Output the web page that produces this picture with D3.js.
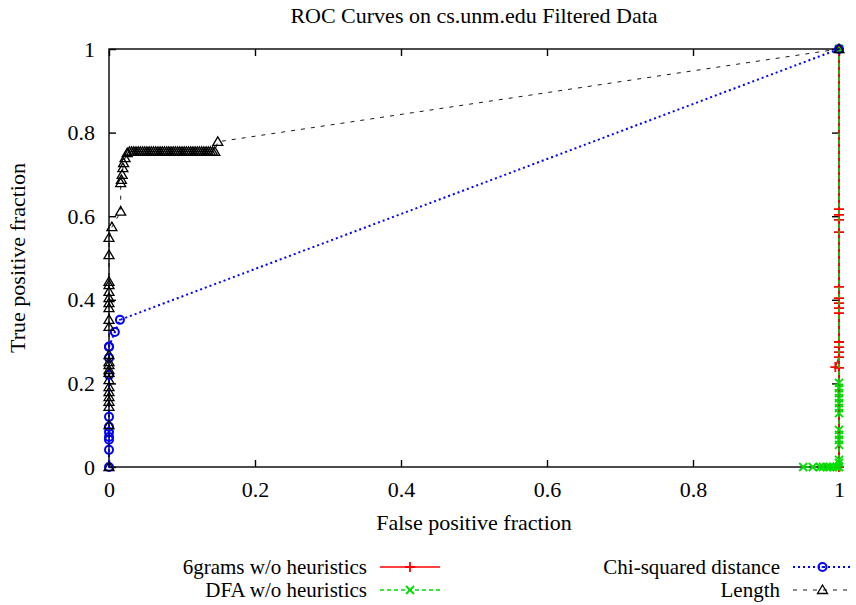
<!DOCTYPE html>
<html><head><meta charset="utf-8">
<script src="https://cdn.jsdelivr.net/npm/d3@7"></script>
<style>body{margin:0;background:#fff}</style>
</head><body>
<svg id="c" width="856" height="605"></svg>
<script>
const title = "ROC Curves on cs.unm.edu Filtered Data";
const xLabel = "False positive fraction";
const yLabel = "True positive fraction";
const xTicks = [0, 0.2, 0.4, 0.6, 0.8, 1];
const yTicks = [0, 0.2, 0.4, 0.6, 0.8, 1];

// 6grams w/o heuristics (red +, solid)
const grams6X = [1, 1, 1, 1, 1, 1, 1, 1, 1, 1, 1, 1, 1, 1, 0.995, 1, 1];
const grams6Y = [1, 0.617, 0.603, 0.591, 0.562, 0.431, 0.404, 0.392, 0.380, 0.368, 0.299, 0.287, 0.275, 0.263, 0.239, 0.237, 0];
// DFA w/o heuristics (green x, dashed)
const dfaX = [1, 1, 1, 1, 1, 1, 1, 1, 1, 1, 1, 1, 1, 1, 1, 0.997, 0.992, 0.988, 0.984, 0.978, 0.974, 0.964, 0.951];
const dfaY = [1, 0.201, 0.189, 0.177, 0.165, 0.153, 0.141, 0.129, 0.089, 0.077, 0.065, 0.053, 0.017, 0.010, 0, 0, 0, 0, 0, 0, 0, 0, 0];
// Chi-squared distance (blue circles, dotted)
const chiX = [0, 0, 0, 0, 0, 0, 0, 0, 0, 0, 0, 0.008, 0.015, 1];
const chiY = [0, 0.041, 0.065, 0.072, 0.084, 0.096, 0.120, 0.220, 0.261, 0.287, 0.288, 0.323, 0.352, 1];
// Length (black triangles, dashed)
const lenX = [0, 0, 0, 0, 0, 0, 0, 0, 0, 0, 0, 0, 0, 0, 0, 0, 0, 0, 0, 0, 0, 0, 0, 0.004, 0.016,
  0.016, 0.017, 0.018, 0.019, 0.020, 0.022, 0.025, 0.028, 0.031, 0.034, 0.037, 0.040, 0.043, 0.046,
  0.049, 0.052, 0.055, 0.058, 0.061, 0.064, 0.067, 0.070, 0.073, 0.076, 0.079, 0.082, 0.085, 0.088,
  0.091, 0.094, 0.097, 0.100, 0.103, 0.106, 0.109, 0.112, 0.115, 0.118, 0.121, 0.124, 0.127, 0.130,
  0.133, 0.136, 0.139, 0.142, 0.145, 0.149, 1];
const lenY = [0, 0.1, 0.144, 0.156, 0.167, 0.179, 0.191, 0.208, 0.225, 0.232, 0.244, 0.251, 0.268, 0.335, 0.352, 0.380, 0.392, 0.404, 0.419, 0.435, 0.443, 0.507, 0.548, 0.574, 0.611,
  0.679, 0.687, 0.699, 0.715, 0.727, 0.739, 0.751, 0.754, 0.754, 0.754, 0.754, 0.754, 0.754, 0.754,
  0.754, 0.754, 0.754, 0.754, 0.754, 0.754, 0.754, 0.754, 0.754, 0.754, 0.754, 0.754, 0.754, 0.754,
  0.754, 0.754, 0.754, 0.754, 0.754, 0.754, 0.754, 0.754, 0.754, 0.754, 0.754, 0.754, 0.754, 0.754,
  0.754, 0.754, 0.754, 0.754, 0.754, 0.778, 1];

const legendNames = ["6grams w/o heuristics", "DFA w/o heuristics", "Chi-squared distance", "Length"];

const svg = d3.select("#c");
const font = "'Liberation Serif', 'Times New Roman', serif";
const fs = 22;
const L = 109, R = 839, T = 49, B = 467;
const x = d3.scaleLinear().domain([0, 1]).range([L, R]);
const y = d3.scaleLinear().domain([0, 1]).range([B, T]);

// frame
svg.append("rect").attr("x", L).attr("y", T).attr("width", R - L).attr("height", B - T)
  .attr("fill", "none").attr("stroke", "#000").attr("stroke-width", 1.4);

// axes with inward ticks
const fmt = d => d === 0 ? "0" : d === 1 ? "1" : String(d);
const tk = 7;
const axB = svg.append("g").attr("transform", `translate(0,${B})`)
  .call(d3.axisBottom(x).tickValues(xTicks).tickFormat(fmt).tickSizeInner(-tk).tickSizeOuter(0).tickPadding(14));
const axT = svg.append("g").attr("transform", `translate(0,${T})`)
  .call(d3.axisTop(x).tickValues(xTicks).tickFormat("").tickSizeInner(-tk).tickSizeOuter(0));
const axL = svg.append("g").attr("transform", `translate(${L},0)`)
  .call(d3.axisLeft(y).tickValues(yTicks).tickFormat(fmt).tickSizeInner(-tk).tickSizeOuter(0).tickPadding(14));
const axR = svg.append("g").attr("transform", `translate(${R},0)`)
  .call(d3.axisRight(y).tickValues(yTicks).tickFormat("").tickSizeInner(-tk).tickSizeOuter(0));
[axB, axT, axL, axR].forEach(a => {
  a.select(".domain").remove();
  a.selectAll(".tick line").attr("stroke", "#000").attr("stroke-width", 1.4);
  a.selectAll("text").attr("font-family", font).attr("font-size", fs).attr("fill", "#000");
});

// title & labels
svg.append("text").attr("x", 474).attr("y", 23).attr("text-anchor", "middle")
  .attr("font-family", font).attr("font-size", fs).text(title);
svg.append("text").attr("x", 474).attr("y", 530).attr("text-anchor", "middle")
  .attr("font-family", font).attr("font-size", fs).text(xLabel);
svg.append("text").attr("transform", "translate(25,258) rotate(-90)").attr("text-anchor", "middle")
  .attr("font-family", font).attr("font-size", fs).text(yLabel);

// marker drawers
function plus(g, cx, cy, col) {
  g.append("path").attr("d", `M${cx - 5},${cy}H${cx + 5}M${cx},${cy - 5}V${cy + 5}`).attr("stroke", col).attr("stroke-width", 1.8).attr("fill", "none");
}
function cross(g, cx, cy, col) {
  g.append("path").attr("d", `M${cx - 4},${cy - 4}L${cx + 4},${cy + 4}M${cx - 4},${cy + 4}L${cx + 4},${cy - 4}`).attr("stroke", col).attr("stroke-width", 1.8).attr("fill", "none");
}
function circ(g, cx, cy, col) {
  g.append("circle").attr("cx", cx).attr("cy", cy).attr("r", 4).attr("stroke", col).attr("stroke-width", 2).attr("fill", "none");
  g.append("circle").attr("cx", cx).attr("cy", cy).attr("r", 1).attr("fill", col);
}
function tri(g, cx, cy, col) {
  g.append("path").attr("d", `M${cx},${cy - 5}L${cx + 5},${cy + 3.5}L${cx - 5},${cy + 3.5}Z`).attr("stroke", col).attr("stroke-width", 1.3).attr("fill", "none");
}

const series = [
  {xs: grams6X, ys: grams6Y, col: "#ff0000", dash: null, w: 1.5, mk: plus},
  {xs: dfaX, ys: dfaY, col: "#00dd00", dash: "4,3", w: 1.5, mk: cross},
  {xs: chiX, ys: chiY, col: "#0000ff", dash: "2,3", w: 2, mk: circ},
  {xs: lenX, ys: lenY, col: "#000000", dash: "4,6", w: 0.9, mk: tri}
];
const line = d3.line().x(d => x(d[0])).y(d => y(d[1]));
series.forEach(s => {
  const pts = s.xs.map((v, i) => [v, s.ys[i]]);
  const g = svg.append("g");
  g.append("path").attr("d", line(pts)).attr("fill", "none").attr("stroke", s.col)
    .attr("stroke-width", s.w).attr("stroke-dasharray", s.dash);
  pts.forEach(p => s.mk(g, x(p[0]), y(p[1]), s.col));
});

// legend
const lfs = 21;
const legPos = [[367, 567, 380, 440], [367, 590, 380, 440], [780, 567, 793, 852], [780, 590, 793, 852]];
series.forEach((s, i) => {
  const [tx, ty, x1, x2] = legPos[i];
  svg.append("text").attr("x", tx).attr("y", ty + 7).attr("text-anchor", "end")
    .attr("font-family", font).attr("font-size", lfs).text(legendNames[i]);
  svg.append("line").attr("x1", x1).attr("x2", x2).attr("y1", ty).attr("y2", ty)
    .attr("stroke", s.col).attr("stroke-width", s.w).attr("stroke-dasharray", s.dash);
  s.mk(svg, (x1 + x2) / 2, ty, s.col);
});
</script>
</body></html>
